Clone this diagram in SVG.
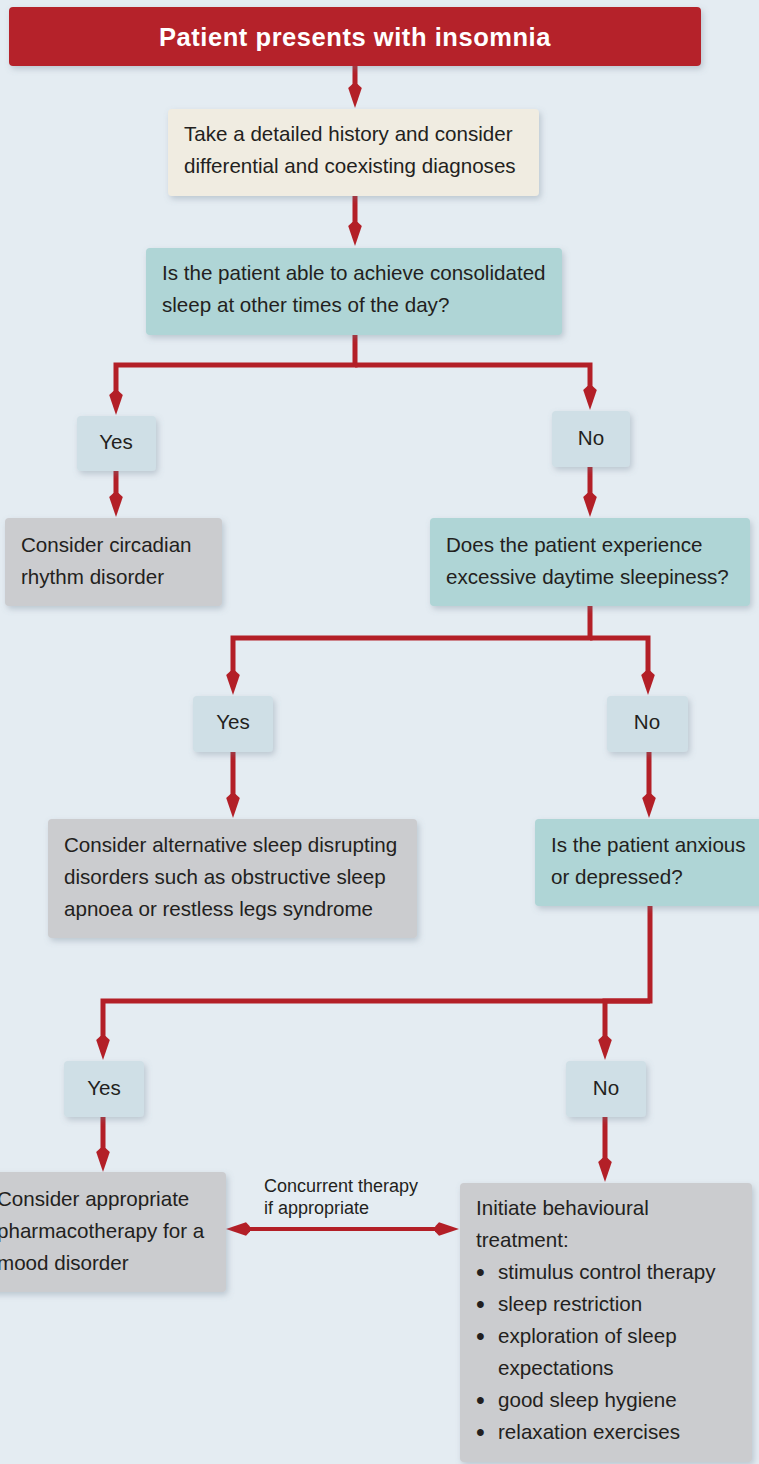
<svg xmlns="http://www.w3.org/2000/svg" width="759" height="1464" viewBox="0 0 759 1464">
<style>
.t{font-family:"Liberation Sans",Arial,sans-serif;font-size:20.6px;fill:#231f20}
.c{text-anchor:middle}
.b{font-size:25px}
.title{font-family:"Liberation Sans",Arial,sans-serif;font-size:25.5px;font-weight:bold;fill:#ffffff;text-anchor:middle;letter-spacing:0.55px}
.lbl{font-family:"Liberation Sans",Arial,sans-serif;font-size:18px;fill:#231f20}
.red{fill:#b5232a}
.cream{fill:#f0ece1}
.teal{fill:#afd5d6}
.yn{fill:#cfdfe6}
.grey{fill:#cbcccf}
.ln{fill:none;stroke:#b31f27;stroke-width:5}
.ln2{fill:none;stroke:#b31f27;stroke-width:4}
</style>
<defs>
<filter id="sh" x="-10%" y="-10%" width="125%" height="135%">
<feDropShadow dx="2" dy="3" stdDeviation="3" flood-color="#6d7f90" flood-opacity="0.35"/>
</filter>
<marker id="ah" viewBox="0 -8 24 16" refX="6" refY="0" markerWidth="24" markerHeight="16" markerUnits="userSpaceOnUse" orient="auto-start-reverse">
<path d="M0,-2.5 L4,-6.8 L24,0 L4,6.8 L0,2.5 Z" fill="#b31f27"/>
</marker>
</defs>
<rect width="759" height="1464" fill="#e4ecf2"/>

<g id="connectors">
<path class="ln" d="M355,66 V90" marker-end="url(#ah)"/>
<path class="ln" d="M355,196 V228" marker-end="url(#ah)"/>
<path class="ln" d="M355,335 V365 H116 V397" marker-end="url(#ah)"/>
<path class="ln" d="M355,365 H590 V392" marker-end="url(#ah)"/>
<path class="ln" d="M116,471 V499" marker-end="url(#ah)"/>
<path class="ln" d="M590,467 V499" marker-end="url(#ah)"/>
<path class="ln" d="M590,606 V638 H233 V677" marker-end="url(#ah)"/>
<path class="ln" d="M590,638 H648 V677" marker-end="url(#ah)"/>
<path class="ln" d="M233,752 V800" marker-end="url(#ah)"/>
<path class="ln" d="M649,752 V800" marker-end="url(#ah)"/>
<path class="ln" d="M650,906 V1001 H103 V1042" marker-end="url(#ah)"/>
<path class="ln" d="M650,1001 H605 V1042" marker-end="url(#ah)"/>
<path class="ln" d="M103,1117 V1154" marker-end="url(#ah)"/>
<path class="ln" d="M605,1117 V1164" marker-end="url(#ah)"/>
<path class="ln2" d="M244,1229 H441" marker-start="url(#ah)" marker-end="url(#ah)"/>
<text class="lbl" x="264" y="1192">Concurrent therapy</text>
<text class="lbl" x="264" y="1214">if appropriate</text>
</g>

<g id="start">
<rect class="red" x="9" y="7" width="692" height="59" rx="4" filter="url(#sh)"/>
<text class="title" x="355" y="46">Patient presents with insomnia</text>
</g>

<g id="history">
<rect class="cream" x="168" y="109" width="371" height="87" rx="4" filter="url(#sh)"/>
<text class="t" x="184" y="141">Take a detailed history and consider</text>
<text class="t" x="184" y="173">differential and coexisting diagnoses</text>
</g>

<g id="q1">
<rect class="teal" x="146" y="248" width="416" height="87" rx="4" filter="url(#sh)"/>
<text class="t" x="162" y="280">Is the patient able to achieve consolidated</text>
<text class="t" x="162" y="312">sleep at other times of the day?</text>
</g>

<g id="yes1">
<rect class="yn" x="77" y="416" width="79" height="55" rx="4" filter="url(#sh)"/>
<text class="t c" x="116" y="449">Yes</text>
</g>

<g id="no1">
<rect class="yn" x="552" y="411" width="78" height="56" rx="4" filter="url(#sh)"/>
<text class="t c" x="591" y="445">No</text>
</g>

<g id="circadian">
<rect class="grey" x="5" y="518" width="217" height="88" rx="4" filter="url(#sh)"/>
<text class="t" x="21" y="552">Consider circadian</text>
<text class="t" x="21" y="584">rhythm disorder</text>
</g>

<g id="q2">
<rect class="teal" x="430" y="518" width="320" height="88" rx="4" filter="url(#sh)"/>
<text class="t" x="446" y="552">Does the patient experience</text>
<text class="t" x="446" y="584">excessive daytime sleepiness?</text>
</g>

<g id="yes2">
<rect class="yn" x="193" y="696" width="80" height="56" rx="4" filter="url(#sh)"/>
<text class="t c" x="233" y="729">Yes</text>
</g>

<g id="no2">
<rect class="yn" x="607" y="696" width="81" height="56" rx="4" filter="url(#sh)"/>
<text class="t c" x="647" y="729">No</text>
</g>

<g id="alternative">
<rect class="grey" x="48" y="819" width="369" height="119" rx="4" filter="url(#sh)"/>
<text class="t" x="64" y="852">Consider alternative sleep disrupting</text>
<text class="t" x="64" y="884">disorders such as obstructive sleep</text>
<text class="t" x="64" y="916">apnoea or restless legs syndrome</text>
</g>

<g id="q3">
<rect class="teal" x="535" y="819" width="240" height="87" rx="4" filter="url(#sh)"/>
<text class="t" x="551" y="852">Is the patient anxious</text>
<text class="t" x="551" y="884">or depressed?</text>
</g>

<g id="yes3">
<rect class="yn" x="64" y="1061" width="80" height="56" rx="4" filter="url(#sh)"/>
<text class="t c" x="104" y="1095">Yes</text>
</g>

<g id="no3">
<rect class="yn" x="566" y="1061" width="80" height="56" rx="4" filter="url(#sh)"/>
<text class="t c" x="606" y="1095">No</text>
</g>

<g id="pharmacotherapy">
<rect class="grey" x="-10" y="1172" width="236" height="120" rx="4" filter="url(#sh)"/>
<text class="t" x="-3" y="1206">Consider appropriate</text>
<text class="t" x="-3" y="1238">pharmacotherapy for a</text>
<text class="t" x="-3" y="1270">mood disorder</text>
</g>

<g id="behavioural">
<rect class="grey" x="460" y="1183" width="292" height="279" rx="4" filter="url(#sh)"/>
<text class="t" x="476" y="1215">Initiate behavioural</text>
<text class="t" x="476" y="1247">treatment:</text>
<text class="t b" x="476" y="1281">•</text>
<text class="t" x="498" y="1279">stimulus control therapy</text>
<text class="t b" x="476" y="1313">•</text>
<text class="t" x="498" y="1311">sleep restriction</text>
<text class="t b" x="476" y="1345">•</text>
<text class="t" x="498" y="1343">exploration of sleep</text>
<text class="t" x="498" y="1375">expectations</text>
<text class="t b" x="476" y="1409">•</text>
<text class="t" x="498" y="1407">good sleep hygiene</text>
<text class="t b" x="476" y="1441">•</text>
<text class="t" x="498" y="1439">relaxation exercises</text>
</g>
</svg>
